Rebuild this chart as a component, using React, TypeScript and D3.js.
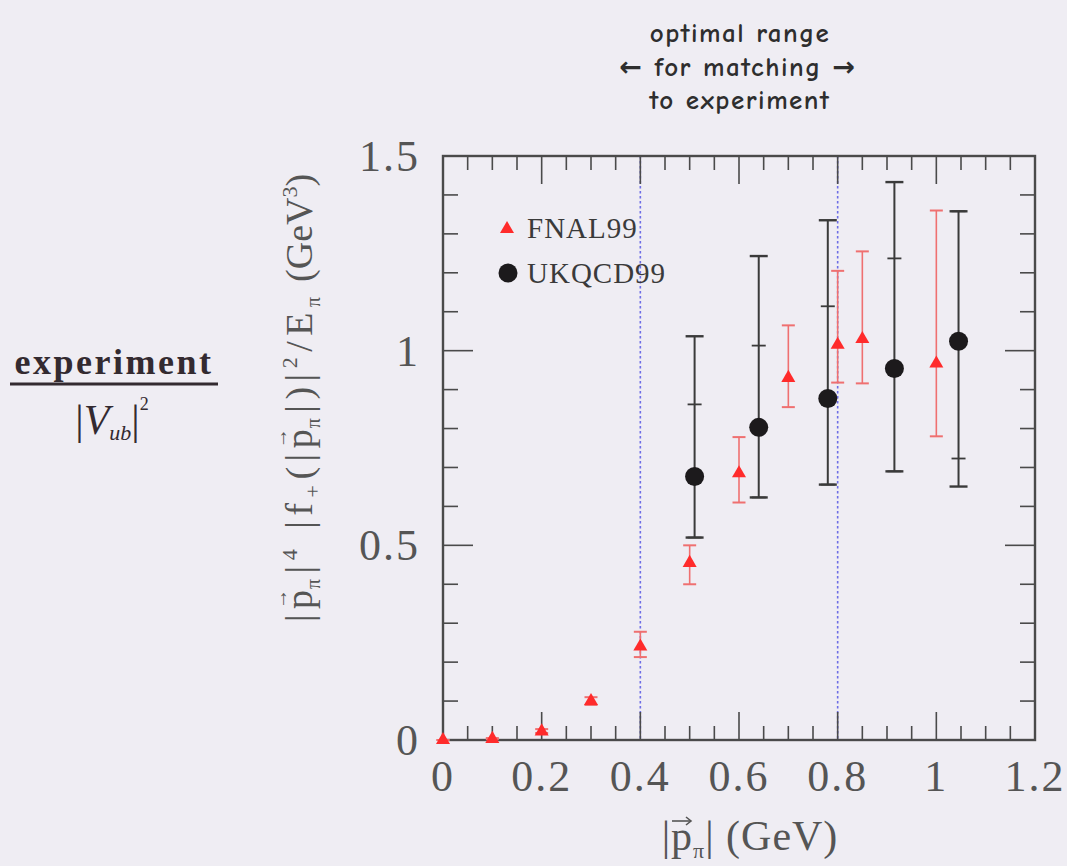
import { scaleLinear, symbol, symbolTriangle, range } from 'd3'

const width = 1067
const height = 866

// FNAL99 (red triangles)
const fnalX = [0, 0.1, 0.2, 0.3, 0.4, 0.5, 0.6, 0.7, 0.8, 0.85, 1.0]
const fnalY = [0, 0.003, 0.022, 0.1, 0.24, 0.455, 0.685, 0.93, 1.015, 1.03, 0.967]
const fnalLo = [0, 0.002, 0.018, 0.09, 0.213, 0.4, 0.61, 0.855, 0.918, 0.916, 0.78]
const fnalHi = [0, 0.005, 0.028, 0.11, 0.278, 0.5, 0.778, 1.065, 1.205, 1.255, 1.36]

// UKQCD99 (black circles): outer = total error, inner = statistical
const ukX = [0.51, 0.64, 0.78, 0.915, 1.045]
const ukY = [0.677, 0.803, 0.877, 0.954, 1.024]
const ukLo = [0.52, 0.623, 0.656, 0.69, 0.651]
const ukHi = [1.037, 1.243, 1.335, 1.433, 1.358]
const ukInLo = [0.52, 0.623, 0.656, 0.69, 0.723]
const ukInHi = [0.862, 1.013, 1.114, 1.237, 1.358]

const xTicks = [0, 0.2, 0.4, 0.6, 0.8, 1, 1.2]
const xTickLabels = ['0', '0.2', '0.4', '0.6', '0.8', '1', '1.2']
const yTicks = [0, 0.5, 1, 1.5]
const yTickLabels = ['0', '0.5', '1', '1.5']
const rangeLines = [0.4, 0.8]

const bg = '#efedf3'
const ink = '#4a4a4a'
const serif = '"Liberation Serif", "DejaVu Serif", serif'
const comic = '"Comic Sans MS", "Comic Neue", "DejaVu Sans", sans-serif'

// |p_pi| with an arrow over the p; ls = letter spacing used around it
function vecP(k: string, ls: number) {
  return [
    <tspan key={k + 'a'} letterSpacing={ls}>|p</tspan>,
    <tspan key={k + 'b'} dx={-19 - ls} dy={-25} fontSize={20} letterSpacing={0}>→</tspan>,
    <tspan key={k + 'c'} dx={0} dy={33} fontSize={20} letterSpacing={ls}>π</tspan>,
    <tspan key={k + 'd'} dy={-8} letterSpacing={ls}>|</tspan>,
  ]
}

function App() {
  const x = scaleLinear().domain([0, 1.2]).range([443, 1035])
  const y = scaleLinear().domain([0, 1.5]).range([740, 156])
  const [x0, x1] = x.range()
  const [y0, y1] = y.range()

  const tri = symbol().type(symbolTriangle).size(85)()
  const xMinor = range(0, 1.2001, 0.05)
  const yMinor = range(0, 1.5001, 0.1)

  const cap = (cx: number, v: number, w: number, color: string, sw: number, k: string) => (
    <line key={k} x1={cx - w / 2} x2={cx + w / 2} y1={y(v)} y2={y(v)} stroke={color} strokeWidth={sw} />
  )

  const ls = 5.5

  return (
    <div style={{ position: 'fixed', left: 0, top: 0 }}>
      <svg width={width} height={height} style={{ display: 'block' }}>
        <rect width={width} height={height} fill={bg} />

        {/* annotation */}
        <g fontFamily={comic} fontSize={27} fill="#2e2e2e" textAnchor="middle" fontWeight="bold" letterSpacing={1.5}>
          <text x={740} y={42}>optimal range</text>
          <text x={738} y={76}>← for matching →</text>
          <text x={740} y={109}>to experiment</text>
        </g>

        {/* optimal range lines */}
        {rangeLines.map(v => (
          <line key={v} x1={x(v)} x2={x(v)} y1={y1} y2={y0} stroke="#6d6de6" strokeWidth={1.6} strokeDasharray="2.5,2.5" />
        ))}

        {/* ticks */}
        <g stroke={ink} strokeWidth={1.6}>
          {xMinor.map((v, i) => {
            const major = i % 4 === 0
            const l = major ? 28 : 14
            return (
              <g key={'xm' + i}>
                <line x1={x(v)} x2={x(v)} y1={y0} y2={y0 - l} />
                <line x1={x(v)} x2={x(v)} y1={y1} y2={y1 + l} />
              </g>
            )
          })}
          {yMinor.map((v, i) => {
            const major = i % 5 === 0
            const l = major ? 30 : 15
            return (
              <g key={'ym' + i}>
                <line x1={x0} x2={x0 + l} y1={y(v)} y2={y(v)} />
                <line x1={x1} x2={x1 - l} y1={y(v)} y2={y(v)} />
              </g>
            )
          })}
        </g>

        {/* frame */}
        <rect x={x0} y={y1} width={x1 - x0} height={y0 - y1} fill="none" stroke={ink} strokeWidth={2.4} />

        {/* tick labels */}
        <g fontFamily={serif} fontSize={44} fill="#555" letterSpacing={2}>
          {xTicks.map((v, i) => (
            <text key={'xl' + i} x={x(v)} y={791} textAnchor="middle">{xTickLabels[i]}</text>
          ))}
          {yTicks.map((v, i) => (
            <text key={'yl' + i} x={420} y={y(v) + 15} textAnchor="end">{yTickLabels[i]}</text>
          ))}
        </g>

        {/* FNAL99 */}
        <g>
          {fnalX.map((v, i) => {
            const cx = x(v)
            const c = '#ef7070'
            return (
              <g key={'f' + i}>
                <line x1={cx} x2={cx} y1={y(fnalLo[i])} y2={y(fnalHi[i])} stroke={c} strokeWidth={1.6} />
                {cap(cx, fnalLo[i], 13, c, 2, 'lo')}
                {cap(cx, fnalHi[i], 13, c, 2, 'hi')}
                <path d={tri!} transform={`translate(${cx},${y(fnalY[i])})`} fill="#ff2b2b" />
              </g>
            )
          })}
        </g>

        {/* UKQCD99 */}
        <g>
          {ukX.map((v, i) => {
            const cx = x(v)
            const c = '#3a3a3a'
            return (
              <g key={'u' + i}>
                <line x1={cx} x2={cx} y1={y(ukLo[i])} y2={y(ukHi[i])} stroke={c} strokeWidth={2} />
                {cap(cx, ukLo[i], 18, c, 2.4, 'lo')}
                {cap(cx, ukHi[i], 18, c, 2.4, 'hi')}
                {cap(cx, ukInLo[i], 14, c, 1.8, 'ilo')}
                {cap(cx, ukInHi[i], 14, c, 1.8, 'ihi')}
                <circle cx={cx} cy={y(ukY[i])} r={9.5} fill="#1c1a1c" />
              </g>
            )
          })}
        </g>

        {/* legend */}
        <g fontFamily={serif} fontSize={29} fill="#3a3a3a" letterSpacing={1}>
          <path d={tri!} transform="translate(507,229)" fill="#ff2b2b" />
          <text x={527} y={238}>FNAL99</text>
          <circle cx={508} cy={273} r={9.5} fill="#1c1a1c" />
          <text x={527} y={283}>UKQCD99</text>
        </g>

        {/* x axis title */}
        <text x={750} y={850} fontFamily={serif} fontSize={42} fill="#555" textAnchor="middle" letterSpacing={1}>
          <tspan>|p</tspan>
          <tspan dy={8} fontSize={22}>π</tspan>
          <tspan dy={-8}>|  (GeV)</tspan>
        </text>
        <g stroke="#555" strokeWidth={1.6} fill="none">
          <line x1={672} x2={691} y1={821} y2={821} />
          <path d="M686,817 L691,821 L686,825" />
        </g>

        {/* y axis title */}
        <text transform="translate(312,398) rotate(-90)" fontFamily={serif} fontSize={38} fill="#555" textAnchor="middle">
          {vecP('a', ls)}
          <tspan dy={-15} fontSize={22} letterSpacing={ls}>4</tspan>
          <tspan dy={15} letterSpacing={ls}> |f</tspan>
          <tspan dy={8} fontSize={22} letterSpacing={ls}>+</tspan>
          <tspan dy={-8} letterSpacing={ls}>(</tspan>
          {vecP('b', ls)}
          <tspan letterSpacing={ls}>)|</tspan>
          <tspan dy={-15} fontSize={22} letterSpacing={ls}>2</tspan>
          <tspan dy={15} letterSpacing={ls}>/E</tspan>
          <tspan dy={8} fontSize={20} letterSpacing={ls}>π</tspan>
          <tspan dy={-8} letterSpacing={0}>  (GeV</tspan>
          <tspan dy={-15} fontSize={22}>3</tspan>
          <tspan dy={15}>)</tspan>
        </text>

        {/* experiment / |Vub|^2 */}
        <g fontFamily={'"Liberation Serif", "Times New Roman", serif'} fill="#332a30">
          <text x={114} y={374} fontSize={36} fontWeight="bold" letterSpacing={2.5} textAnchor="middle">experiment</text>
          <line x1={10} x2={218} y1={384} y2={384} stroke="#332a30" strokeWidth={2.8} />
          <text x={112} y={434} fontSize={42} textAnchor="middle">
            <tspan>|</tspan>
            <tspan fontStyle="italic">V</tspan>
            <tspan fontStyle="italic" fontSize={22} dy={6}>ub</tspan>
            <tspan dy={-6}>|</tspan>
            <tspan fontSize={18} dy={-24}>2</tspan>
          </text>
        </g>
      </svg>
    </div>
  )
}

export default App
